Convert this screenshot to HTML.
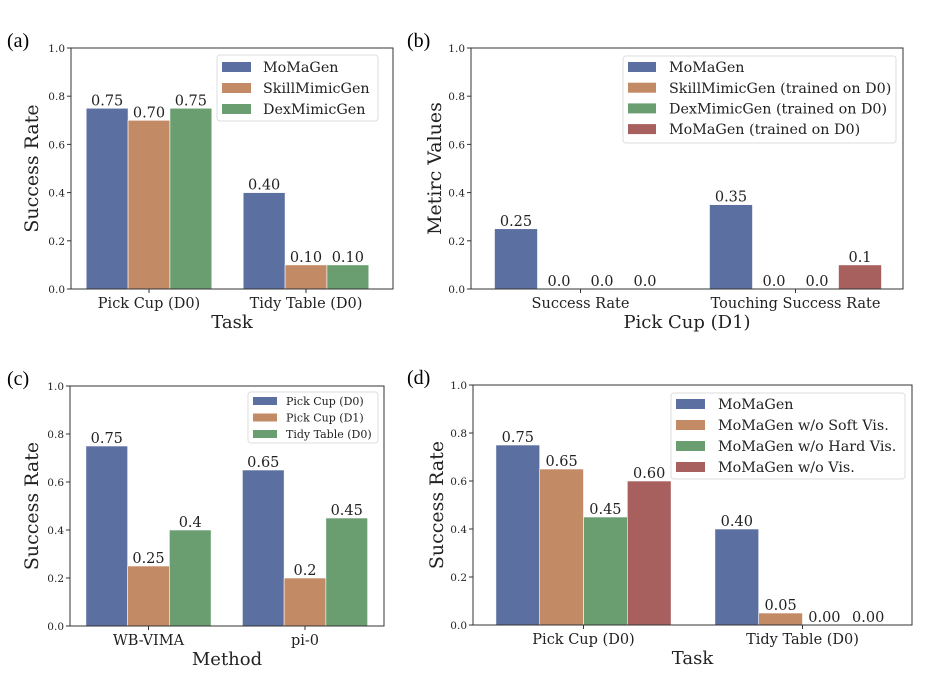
<!DOCTYPE html>
<html><head><meta charset="utf-8"><style>
body{margin:0;background:#fff;}
svg{display:block;font-family:"DejaVu Serif","Liberation Serif",serif;}
</style></head><body>
<svg id="chart" width="932" height="674" viewBox="0 0 932 674" xmlns="http://www.w3.org/2000/svg"></svg>
<script>
// ---- data ----
const aCategories = ["Pick Cup (D0)", "Tidy Table (D0)"];
const aSeriesNames = ["MoMaGen", "SkillMimicGen", "DexMimicGen"];
const aValues = [[0.75, 0.40], [0.70, 0.10], [0.75, 0.10]];
const aLabels = [["0.75", "0.40"], ["0.70", "0.10"], ["0.75", "0.10"]];

const bCategories = ["Success Rate", "Touching Success Rate"];
const bSeriesNames = ["MoMaGen", "SkillMimicGen (trained on D0)", "DexMimicGen (trained on D0)", "MoMaGen (trained on D0)"];
const bValues = [[0.25, 0.35], [0.0, 0.0], [0.0, 0.0], [0.0, 0.1]];
const bLabels = [["0.25", "0.35"], ["0.0", "0.0"], ["0.0", "0.0"], ["0.0", "0.1"]];

const cCategories = ["WB-VIMA", "pi-0"];
const cSeriesNames = ["Pick Cup (D0)", "Pick Cup (D1)", "Tidy Table (D0)"];
const cValues = [[0.75, 0.65], [0.25, 0.2], [0.4, 0.45]];
const cLabels = [["0.75", "0.65"], ["0.25", "0.2"], ["0.4", "0.45"]];

const dCategories = ["Pick Cup (D0)", "Tidy Table (D0)"];
const dSeriesNames = ["MoMaGen", "MoMaGen w/o Soft Vis.", "MoMaGen w/o Hard Vis.", "MoMaGen w/o Vis."];
const dValues = [[0.75, 0.40], [0.65, 0.05], [0.45, 0.0], [0.60, 0.0]];
const dLabels = [["0.75", "0.40"], ["0.65", "0.05"], ["0.45", "0.00"], ["0.60", "0.00"]];

const yTickValues = [0, 0.2, 0.4, 0.6, 0.8, 1.0];
const yTickLabels = ["0.0", "0.2", "0.4", "0.6", "0.8", "1.0"];

const COLORS = ["#5b6fa0", "#c38a66", "#6a9e70", "#a8605f"];
const NS = "http://www.w3.org/2000/svg";
const svg = document.getElementById("chart");

function mk(tag, attrs, parent, text) {
  const e = document.createElementNS(NS, tag);
  for (const k in attrs) e.setAttribute(k, attrs[k]);
  if (text !== undefined) e.textContent = text;
  parent.appendChild(e);
  return e;
}

function panel(p) {
  const g = mk("g", {}, svg);
  
  
  const yS = v => p.bottom - v * (p.bottom - p.top);
  const xS = i => p.c0 + i * p.unit;
  const n = p.series.length;
  const bw = 0.8 * p.unit / n;
  const t = mk("text", {x: p.letterX, y: p.top - 1, "font-size": 20, fill: "#000", "font-family": "Liberation Serif, serif"}, g, p.letter);
  
  
  yTickValues.forEach((v, i) => {
    const y = yS(v);
    const tk = mk("line", {x1: p.left - 4, x2: p.left, y1: y, y2: y, stroke: "#333", "stroke-width": 1}, g);
    
    
    const tl = mk("text", {x: p.left - 6, y: y + 4, "font-size": 10.5, "text-anchor": "end", fill: "#222"}, g, yTickLabels[i]);
    
    
  });
  p.series.forEach((vals, s) => {
    vals.forEach((v, i) => {
      const x = xS(i) - 0.4 * p.unit + s * bw;
      const y = yS(v);
      const r = mk("rect", {x: x, y: y, width: bw, height: p.bottom - y, fill: COLORS[s], stroke: "#fff", "stroke-width": 0.6}, g);
      
      
      const lb = mk("text", {x: x + bw / 2, y: y - 3, "font-size": 14.5, "text-anchor": "middle", fill: "#222"}, g, p.labels[s][i]);
      
      
    });
  });
  p.cats.forEach((c, i) => {
    const x = xS(i);
    const tk = mk("line", {x1: x, x2: x, y1: p.bottom, y2: p.bottom + 4, stroke: "#333", "stroke-width": 1}, g);
    
    
    const tl = mk("text", {x: x, y: p.bottom + 19, "font-size": 14.5, "text-anchor": "middle", fill: "#222"}, g, c);
    
    
  });
  const fr = mk("rect", {x: p.left, y: p.top, width: p.right - p.left, height: p.bottom - p.top, fill: "none", stroke: "#333", "stroke-width": 1}, g);
  
  
  const xt = mk("text", {x: (p.left + p.right) / 2, y: p.bottom + 39, "font-size": 18, "text-anchor": "middle", fill: "#222"}, g, p.xTitle);
  
  
  const yc = (p.top + p.bottom) / 2;
  const yt = mk("text", {x: p.yTitleX, y: yc, "font-size": 19, "text-anchor": "middle", fill: "#222", transform: "rotate(-90 " + p.yTitleX + " " + yc + ")"}, g, p.yTitle);
  
  
  const L = p.legend;
  const lg = mk("g", {}, g);
  
  
  mk("rect", {x: L.x, y: L.y, width: L.w, height: L.h, rx: 3, fill: "#fff", "fill-opacity": 0.85, stroke: "#ddd", "stroke-width": 1}, lg);
  p.names.forEach((nm, s) => {
    const cy = L.y + L.first + s * L.step;
    const ent = mk("g", {}, lg);
    
    
    mk("rect", {x: L.x + 5, y: cy - L.ph / 2, width: L.pw, height: L.ph, fill: COLORS[s]}, ent);
    mk("text", {x: L.x + 5 + L.pw + L.gap, y: cy + L.fs * 0.36, "font-size": L.fs, fill: "#222"}, ent, nm);
  });
}

panel({name: "panel-a", letter: "(a)", letterX: 7, left: 71, right: 393, top: 48, bottom: 289, c0: 149, unit: 157,
  series: aValues, labels: aLabels, cats: aCategories, names: aSeriesNames, xTitle: "Task", yTitle: "Success Rate", yTitleX: 38,
  legend: {x: 217, y: 55, w: 161, h: 66, first: 12, step: 21, pw: 29, ph: 10, gap: 12, fs: 14.3}});
panel({name: "panel-b", letter: "(b)", letterX: 407, left: 471, right: 903, top: 48, bottom: 289, c0: 580.5, unit: 215,
  series: bValues, labels: bLabels, cats: bCategories, names: bSeriesNames, xTitle: "Pick Cup (D1)", yTitle: "Metirc Values", yTitleX: 441,
  legend: {x: 623, y: 56, w: 273, h: 87, first: 11, step: 20.7, pw: 28, ph: 10, gap: 13, fs: 14.3}});
panel({name: "panel-c", letter: "(c)", letterX: 7, left: 70, right: 384, top: 386, bottom: 626, c0: 148.5, unit: 156.5,
  series: cValues, labels: cLabels, cats: cCategories, names: cSeriesNames, xTitle: "Method", yTitle: "Success Rate", yTitleX: 38,
  legend: {x: 248, y: 392, w: 130, h: 51, first: 9, step: 16.5, pw: 24, ph: 8, gap: 9, fs: 11}});
panel({name: "panel-d", letter: "(d)", letterX: 407, left: 473, right: 912, top: 385, bottom: 625, c0: 583.5, unit: 219,
  series: dValues, labels: dLabels, cats: dCategories, names: dSeriesNames, xTitle: "Task", yTitle: "Success Rate", yTitleX: 443,
  legend: {x: 671, y: 393, w: 234, h: 86, first: 11, step: 21, pw: 29, ph: 10, gap: 13, fs: 14.3}});
</script>
</body></html>
